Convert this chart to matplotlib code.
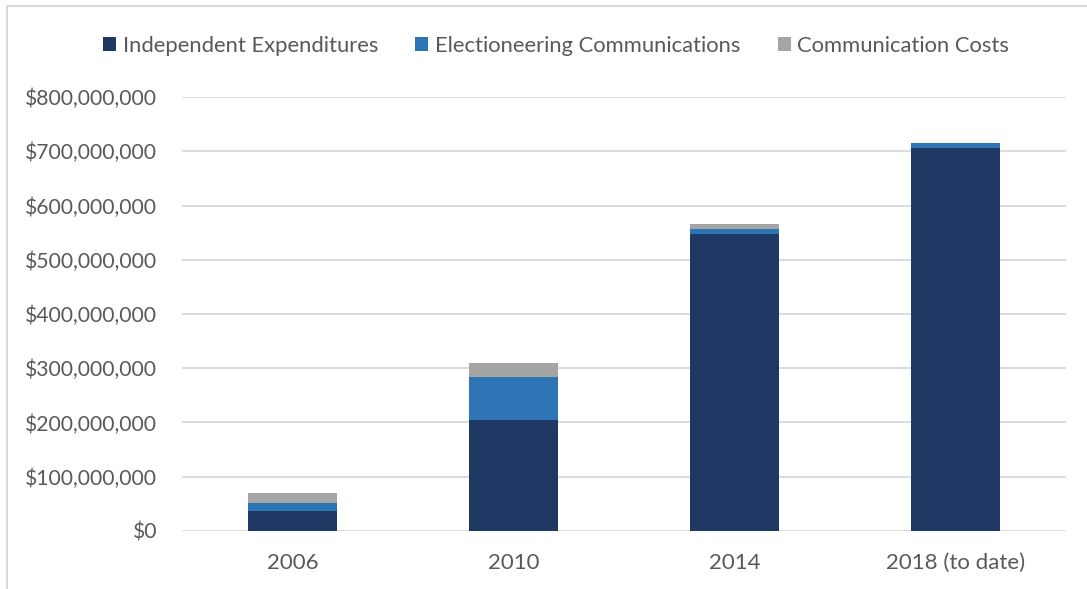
import matplotlib
matplotlib.use("Agg")
import matplotlib.pyplot as plt
from matplotlib.patches import Rectangle
from matplotlib.ticker import FuncFormatter
import numpy as np

years = ["2006", "2010", "2014", "2018 (to date)"]
indep_exp = [37.5e6, 205.5e6, 548e6, 705.5e6]
elect_comm = [14.5e6, 79e6, 9.5e6, 9e6]
comm_costs = [17.5e6, 25e6, 9e6, 1e6]

series = [
    ("Independent Expenditures", indep_exp, "#203864"),
    ("Electioneering Communications", elect_comm, "#2E75B6"),
    ("Communication Costs", comm_costs, "#A5A5A5"),
]

plt.rcParams["font.family"] = ["Lato", "DejaVu Sans"]
TXT = "#595959"

fig = plt.figure(figsize=(10.87, 5.89), dpi=100)
ax = fig.add_axes([0.1674, 0.0985, 0.8133, 0.7368])

x = np.arange(len(years))
bottom = np.zeros(len(years))
for label, vals, col in series:
    ax.bar(x, vals, 0.4, bottom=bottom, color=col, label=label, zorder=3)
    bottom += np.array(vals)

ax.set_xlim(-0.5, len(years) - 0.5)
ax.set_ylim(0, 800e6)
ax.set_yticks(np.arange(0, 800e6 + 1, 100e6))
ax.yaxis.set_major_formatter(FuncFormatter(lambda v, _: f"${v:,.0f}"))
ax.set_xticks(x)
ax.set_xticklabels(years)
ax.grid(axis="y", color="#D9D9D9", lw=1.3, zorder=0)
for s in ax.spines.values():
    s.set_visible(False)
ax.tick_params(axis="y", length=0, labelsize=15.2, colors=TXT, pad=18)
ax.tick_params(axis="x", length=0, labelsize=16, colors=TXT, pad=16)

leg = fig.legend(loc="center", bbox_to_anchor=(0.5115, 0.922), ncol=3, frameon=False,
                 fontsize=15.8, handlelength=0.6, handleheight=0.6, handletextpad=0.3,
                 columnspacing=1.7)
for t in leg.get_texts():
    t.set_color(TXT)

# light chart-area border like the source
fig.patches.append(Rectangle((7 / 1087, -0.05), 1.1, 1.04, transform=fig.transFigure,
                             fill=False, ec="#D9D9D9", lw=1.5))

fig.savefig("out.png", dpi=100)
